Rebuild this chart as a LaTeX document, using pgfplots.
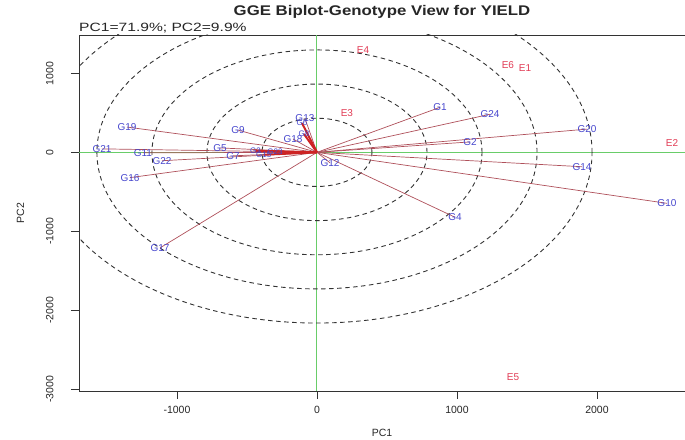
\documentclass[border=0pt]{standalone}
\usepackage{fontspec}
\setmainfont{Liberation Sans}
\usepackage{pgfplots}
\usepackage{pgfplotstable}
\pgfplotsset{compat=1.18}

\definecolor{vec}{RGB}{175,80,90}
\definecolor{gen}{RGB}{70,70,205}
\definecolor{env}{RGB}{225,60,85}
\definecolor{refl}{RGB}{105,205,105}
\definecolor{clus}{RGB}{205,35,35}

% genotype vectors (end points)
\pgfplotstableread{
lab x y
G1 879 570
G24 1236 482
G20 1929 294
G2 1093 132
G14 1893 -182
G10 2500 -645
G4 986 -821
G12 93 -132
G17 -1121 -1209
G19 -1357 320
G21 -1536 44
G11 -1243 -6
G22 -1107 -106
G16 -1336 -320
G9 -564 282
G5 -693 56
G7 -600 -44
G18 -171 169
G13 -86 430
}\genotypes

% short vectors crowded round the origin
\pgfplotstableread{
lab x y
G6 -107 370
G8 -93 232
G3 -440 20
G15 -380 -30
G23 -300 10
}\cluster

\pgfplotstableread{
lab x y
E1 1486 1071
E2 2536 119
E3 214 495
E4 329 1290
E5 1400 -2839
E6 1364 1109
}\environments

\tikzset{ring/.style={black!80, line width=0.9pt, dash pattern=on 4.5pt off 3.5pt}}

\begin{document}
\begin{tikzpicture}
\begin{axis}[
    name=ax,
    scale only axis, width=606pt, height=356pt,
    xmin=-1700, xmax=2629, ymin=-3020, ymax=1485,
    axis line style={black!80, line width=0.8pt},
    xtick={-1000,0,1000,2000},
    ytick={-3000,-2000,-1000,0,1000},
    xtick pos=bottom, ytick pos=left,
    tick align=outside, major tick length=8pt,
    tick style={black!80, line width=0.8pt},
    /pgf/number format/assume math mode=true,
    /pgf/number format/1000 sep={},
    ticklabel style={font=\fontsize{10.5}{12}\selectfont, text=black!85},
    xticklabel shift=4pt,
    yticklabel style={rotate=90, anchor=south},
    yticklabel shift=14pt,
    xlabel={PC1}, ylabel={PC2},
    label style={font=\fontsize{10.5}{12}\selectfont, text=black!85},
    xlabel style={yshift=-8pt},
    ylabel style={yshift=15pt},
    title={\scalebox{1.2}[1]{GGE Biplot-Genotype View for YIELD}},
    title style={font=\bfseries\fontsize{14}{16}\selectfont, text=black!85, at={(0.5,1)}, anchor=center, yshift=17pt},
]
\draw[refl, line width=1pt] (axis cs:0,-3020) -- (axis cs:0,1485);
\draw[refl, line width=1pt] (axis cs:-1700,0) -- (axis cs:2629,0);

\draw[ring] (axis cs:0,0) ellipse [x radius=393, y radius=432];
\draw[ring] (axis cs:0,0) ellipse [x radius=786, y radius=864];
\draw[ring] (axis cs:0,0) ellipse [x radius=1179, y radius=1296];
\draw[ring] (axis cs:0,0) ellipse [x radius=1572, y radius=1728];
\draw[ring] (axis cs:0,0) ellipse [x radius=1965, y radius=2160];

\addplot[vec, line width=0.7pt, mark=none, quiver={u=\thisrow{x}, v=\thisrow{y}}]
  table[x expr=0, y expr=0] {\genotypes};
\addplot[clus, line width=2pt, mark=none, quiver={u=\thisrow{x}, v=\thisrow{y}}]
  table[x expr=0, y expr=0] {\cluster};

\addplot[only marks, mark=*, mark size=0pt, mark options={draw=none, fill=none},
  nodes near coords, point meta=explicit symbolic,
  nodes near coords style={anchor=center, inner sep=0pt, text=gen, font=\fontsize{10}{11}\selectfont}]
  table[x=x, y=y, meta=lab] {\genotypes};
\addplot[only marks, mark=*, mark size=0pt, mark options={draw=none, fill=none},
  nodes near coords, point meta=explicit symbolic,
  nodes near coords style={anchor=center, inner sep=0pt, text=gen, font=\fontsize{8}{9}\selectfont}]
  table[x=x, y=y, meta=lab] {\cluster};
\addplot[only marks, mark=*, mark size=0pt, mark options={draw=none, fill=none},
  nodes near coords, point meta=explicit symbolic,
  nodes near coords style={anchor=center, inner sep=0pt, text=env, font=\fontsize{10}{11}\selectfont}]
  table[x=x, y=y, meta=lab] {\environments};
\end{axis}
\node[anchor=south west, inner sep=0pt, font=\fontsize{12}{14}\selectfont, text=black!85]
  at ([yshift=1.5pt]ax.north west) {\scalebox{1.3}[1]{PC1=71.9\%; PC2=9.9\%}};
\pgfresetboundingbox
\useasboundingbox (-79pt,-48pt) rectangle (606pt,391pt);
\end{tikzpicture}
\end{document}
